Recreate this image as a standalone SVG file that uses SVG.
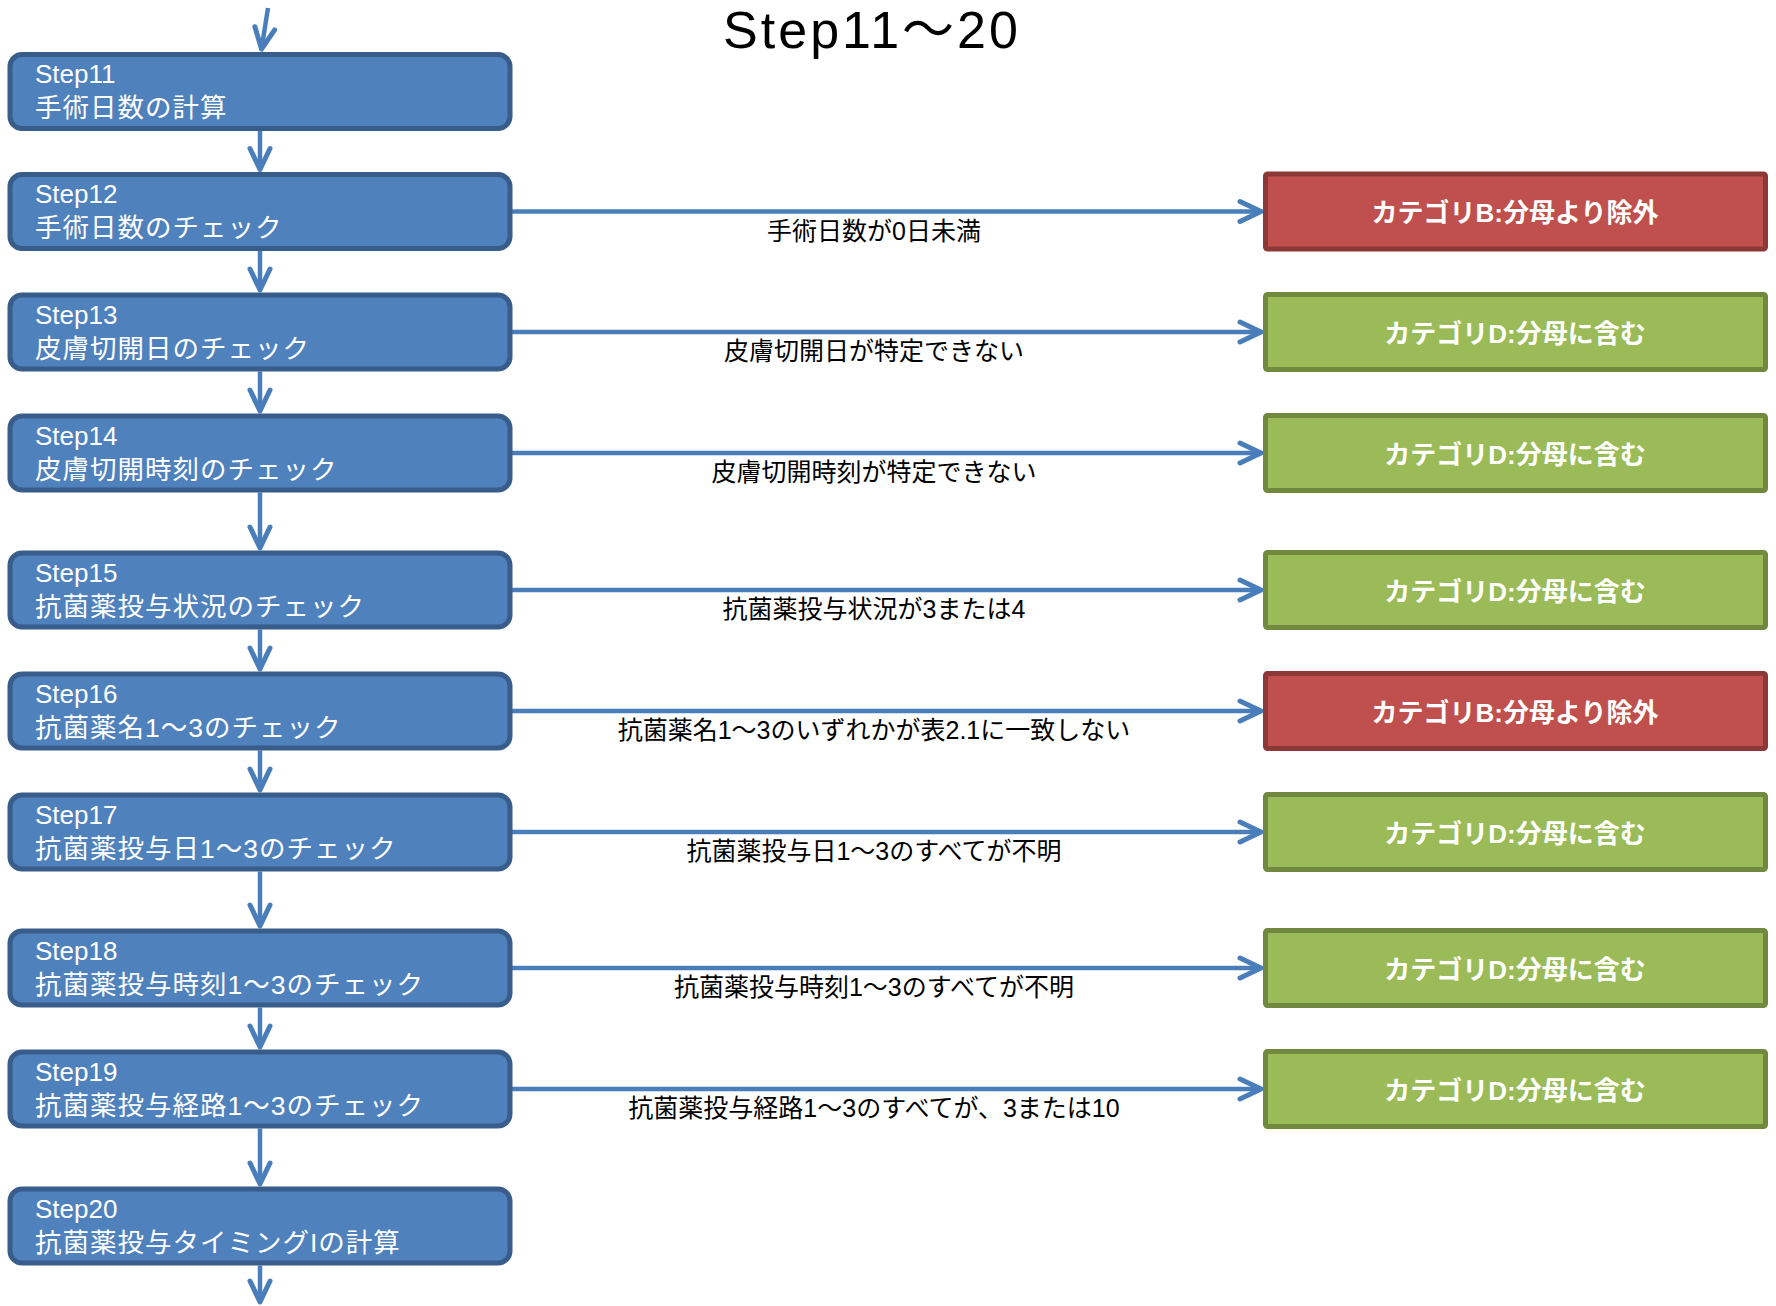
<svg xmlns="http://www.w3.org/2000/svg" width="1776" height="1306" viewBox="0 0 1776 1306">
<style>
.step{fill:#4F81BD;stroke:#385D8A;stroke-width:5}
.red{fill:#C0504D;stroke:#8C3836;stroke-width:5}
.green{fill:#9BBB59;stroke:#71893F;stroke-width:5}
.t1{font-family:"Liberation Sans","Noto Sans CJK JP",sans-serif;font-size:26px;fill:#fff}
.t2{font-family:"Liberation Sans","Noto Sans CJK JP",sans-serif;font-size:26.5px;fill:#fff;letter-spacing:1px}
.rt{font-family:"Liberation Sans","Noto Sans CJK JP",sans-serif;font-size:26px;font-weight:bold;fill:#fff;text-anchor:middle}
.lb{font-family:"Liberation Sans","Noto Sans CJK JP",sans-serif;font-size:25px;fill:#000;text-anchor:middle}
.title{font-family:"Liberation Sans","Noto Sans CJK JP",sans-serif;font-size:52px;fill:#000;text-anchor:middle;letter-spacing:3px}
.conn{stroke:#4A7EBB;stroke-width:4.5;fill:none;marker-end:url(#arr)}
</style>
<defs>
<marker id="arr" viewBox="-28 -15 32 30" refX="0" refY="0" markerWidth="32" markerHeight="30" markerUnits="userSpaceOnUse" orient="auto">
<path d="M-21,-10 L0,0 L-21,10" fill="none" stroke="#4A7EBB" stroke-width="5" stroke-linecap="round" stroke-linejoin="round"/>
</marker>
</defs>
<text class="title" x="872" y="48">Step11～20</text>
<g id="connectors">
<line class="conn" x1="268" y1="8" x2="261.5" y2="49"/>
<line class="conn" x1="260" y1="131" x2="260" y2="169.5"/>
<line class="conn" x1="260" y1="251" x2="260" y2="290"/>
<line class="conn" x1="260" y1="371.5" x2="260" y2="411"/>
<line class="conn" x1="260" y1="492.5" x2="260" y2="548"/>
<line class="conn" x1="260" y1="629.5" x2="260" y2="669"/>
<line class="conn" x1="260" y1="750.5" x2="260" y2="790"/>
<line class="conn" x1="260" y1="871.5" x2="260" y2="926"/>
<line class="conn" x1="260" y1="1007.5" x2="260" y2="1047"/>
<line class="conn" x1="260" y1="1128.5" x2="260" y2="1184"/>
<line class="conn" x1="260" y1="1265.5" x2="260" y2="1302"/>
<line class="conn" x1="512" y1="211.5" x2="1261" y2="211.5"/>
<line class="conn" x1="512" y1="332" x2="1261" y2="332"/>
<line class="conn" x1="512" y1="453" x2="1261" y2="453"/>
<line class="conn" x1="512" y1="590" x2="1261" y2="590"/>
<line class="conn" x1="512" y1="711" x2="1261" y2="711"/>
<line class="conn" x1="512" y1="832" x2="1261" y2="832"/>
<line class="conn" x1="512" y1="968" x2="1261" y2="968"/>
<line class="conn" x1="512" y1="1089" x2="1261" y2="1089"/>
<text class="lb" x="874" y="239.5">手術日数が0日未満</text>
<text class="lb" x="874" y="360">皮膚切開日が特定できない</text>
<text class="lb" x="874" y="481">皮膚切開時刻が特定できない</text>
<text class="lb" x="874" y="618">抗菌薬投与状況が3または4</text>
<text class="lb" x="874" y="739">抗菌薬名1～3のいずれかが表2.1に一致しない</text>
<text class="lb" x="874" y="860">抗菌薬投与日1～3のすべてが不明</text>
<text class="lb" x="874" y="996">抗菌薬投与時刻1～3のすべてが不明</text>
<text class="lb" x="874" y="1117">抗菌薬投与経路1～3のすべてが、3または10</text>
</g>
<g id="step11"><rect class="step" x="10" y="54.5" width="500" height="74" rx="12"/><text class="t1" x="35" y="83">Step11</text><text class="t2" x="35" y="117">手術日数の計算</text></g>
<g id="step12"><rect class="step" x="10" y="174.5" width="500" height="74" rx="12"/><text class="t1" x="35" y="203">Step12</text><text class="t2" x="35" y="237">手術日数のチェック</text></g>
<g id="step13"><rect class="step" x="10" y="295" width="500" height="74" rx="12"/><text class="t1" x="35" y="323.5">Step13</text><text class="t2" x="35" y="357.5">皮膚切開日のチェック</text></g>
<g id="step14"><rect class="step" x="10" y="416" width="500" height="74" rx="12"/><text class="t1" x="35" y="444.5">Step14</text><text class="t2" x="35" y="478.5">皮膚切開時刻のチェック</text></g>
<g id="step15"><rect class="step" x="10" y="553" width="500" height="74" rx="12"/><text class="t1" x="35" y="581.5">Step15</text><text class="t2" x="35" y="615.5">抗菌薬投与状況のチェック</text></g>
<g id="step16"><rect class="step" x="10" y="674" width="500" height="74" rx="12"/><text class="t1" x="35" y="702.5">Step16</text><text class="t2" x="35" y="736.5">抗菌薬名1～3のチェック</text></g>
<g id="step17"><rect class="step" x="10" y="795" width="500" height="74" rx="12"/><text class="t1" x="35" y="823.5">Step17</text><text class="t2" x="35" y="857.5">抗菌薬投与日1～3のチェック</text></g>
<g id="step18"><rect class="step" x="10" y="931" width="500" height="74" rx="12"/><text class="t1" x="35" y="959.5">Step18</text><text class="t2" x="35" y="993.5">抗菌薬投与時刻1～3のチェック</text></g>
<g id="step19"><rect class="step" x="10" y="1052" width="500" height="74" rx="12"/><text class="t1" x="35" y="1080.5">Step19</text><text class="t2" x="35" y="1114.5">抗菌薬投与経路1～3のチェック</text></g>
<g id="step20"><rect class="step" x="10" y="1189" width="500" height="74" rx="12"/><text class="t1" x="35" y="1217.5">Step20</text><text class="t2" x="35" y="1251.5">抗菌薬投与タイミングIの計算</text></g>
<g id="cat12"><rect class="red" x="1265.5" y="174" width="500" height="75" rx="2"/><text class="rt" x="1515" y="222">カテゴリB:分母より除外</text></g>
<g id="cat13"><rect class="green" x="1265.5" y="294.5" width="500" height="75" rx="2"/><text class="rt" x="1515" y="342.5">カテゴリD:分母に含む</text></g>
<g id="cat14"><rect class="green" x="1265.5" y="415.5" width="500" height="75" rx="2"/><text class="rt" x="1515" y="463.5">カテゴリD:分母に含む</text></g>
<g id="cat15"><rect class="green" x="1265.5" y="552.5" width="500" height="75" rx="2"/><text class="rt" x="1515" y="600.5">カテゴリD:分母に含む</text></g>
<g id="cat16"><rect class="red" x="1265.5" y="673.5" width="500" height="75" rx="2"/><text class="rt" x="1515" y="721.5">カテゴリB:分母より除外</text></g>
<g id="cat17"><rect class="green" x="1265.5" y="794.5" width="500" height="75" rx="2"/><text class="rt" x="1515" y="842.5">カテゴリD:分母に含む</text></g>
<g id="cat18"><rect class="green" x="1265.5" y="930.5" width="500" height="75" rx="2"/><text class="rt" x="1515" y="978.5">カテゴリD:分母に含む</text></g>
<g id="cat19"><rect class="green" x="1265.5" y="1051.5" width="500" height="75" rx="2"/><text class="rt" x="1515" y="1099.5">カテゴリD:分母に含む</text></g>
</svg>
